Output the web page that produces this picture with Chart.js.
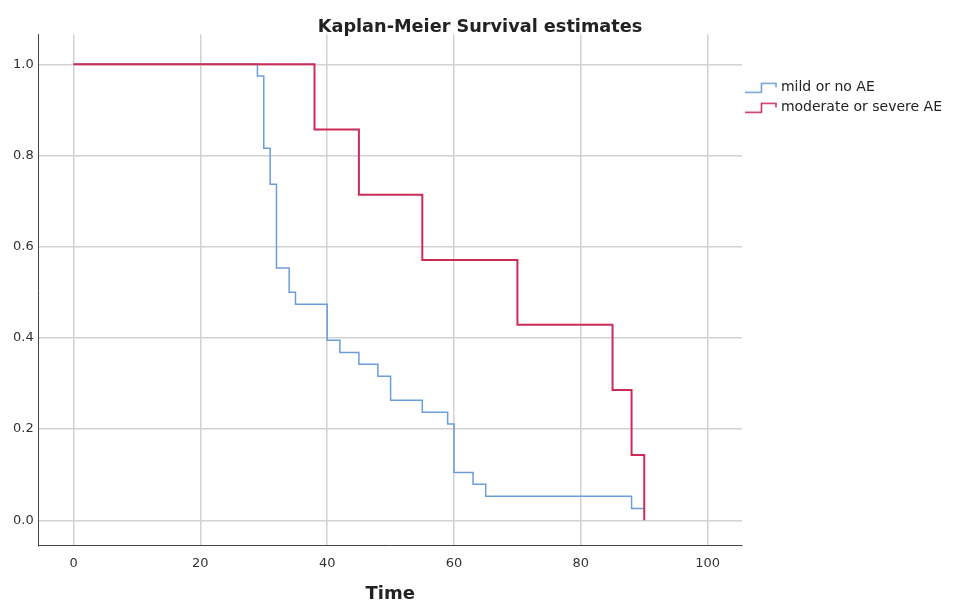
<!DOCTYPE html>
<html>
<head>
<meta charset="utf-8">
<script src="https://cdn.jsdelivr.net/npm/chart.js@4/dist/chart.umd.min.js"></script>
<style>
  html, body { margin: 0; padding: 0; background: #fff; }
  #wrap { width: 953px; height: 603px; }
</style>
</head>
<body>
<div id="wrap"><canvas id="km-chart"></canvas></div>
<script>
// step times and survival estimates
const mildTimes = [0, 29, 30, 31, 32, 34, 35, 40, 42, 45, 48, 50, 55, 59, 60, 63, 65, 88, 90];
const mildSurvival = [1.0, 0.974, 0.816, 0.737, 0.553, 0.5, 0.474, 0.395, 0.368, 0.342, 0.316, 0.263, 0.237, 0.211, 0.105, 0.079, 0.053, 0.026, 0.026];

const severeTimes = [0, 38, 45, 55, 70, 85, 88, 90];
const severeSurvival = [1.0, 0.857, 0.714, 0.571, 0.429, 0.286, 0.143, 0.0];

const seriesNames = ['mild or no AE', 'moderate or severe AE'];
const xTicks = [0, 20, 40, 60, 80, 100];
const yTicks = [0.0, 0.2, 0.4, 0.6, 0.8, 1.0];

const blue = '#6b9ddb';
const red = '#cc2b56';

function toPoints(xs, ys) {
  return xs.map((x, i) => ({ x: x, y: ys[i] }));
}

// little step-shaped legend icon
function stepIcon(color) {
  const c = document.createElement('canvas');
  c.width = 32;
  c.height = 12;
  const g = c.getContext('2d');
  g.strokeStyle = color;
  g.lineWidth = 1.5;
  g.beginPath();
  g.moveTo(0, 10.5);
  g.lineTo(16.5, 10.5);
  g.lineTo(16.5, 1.5);
  g.lineTo(31, 1.5);
  g.lineTo(31, 5.5);
  g.stroke();
  return c;
}

const font = "'DejaVu Sans', sans-serif";

new Chart(document.getElementById('km-chart'), {
  type: 'line',
  data: {
    datasets: [
      {
        label: seriesNames[0],
        data: toPoints(mildTimes, mildSurvival),
        borderColor: blue,
        borderWidth: 1.5,
        stepped: true,
        pointRadius: 0,
        pointStyle: stepIcon(blue),
        fill: false,
        order: 2
      },
      {
        label: seriesNames[1],
        data: toPoints(severeTimes, severeSurvival),
        borderColor: red,
        borderWidth: 2,
        stepped: true,
        pointRadius: 0,
        pointStyle: stepIcon(red),
        fill: false,
        order: 1   // red drawn over blue where they share the 1.0 line
      }
    ]
  },
  options: {
    responsive: true,
    maintainAspectRatio: false,
    animation: false,
    layout: { padding: { left: 8, right: 1, top: 0, bottom: 0 } },
    plugins: {
      title: {
        display: true,
        text: 'Kaplan-Meier Survival estimates',
        color: '#222',
        font: { family: font, size: 17.7, weight: 'bold', lineHeight: 0.8 },
        padding: { top: 20, bottom: 0 }
      },
      legend: {
        position: 'right',
        align: 'start',
        title: { display: true, text: ' ', font: { size: 14 }, padding: { top: 29, bottom: 29 } },
        labels: {
          usePointStyle: true,
          pointStyleWidth: 26,
          padding: 6,
          color: '#222',
          font: { family: font, size: 14 },
          sort: (a, b) => a.datasetIndex - b.datasetIndex
        }
      },
      tooltip: { enabled: false }
    },
    scales: {
      x: {
        type: 'linear',
        min: -5.5,
        max: 105.4,
        afterBuildTicks: (axis) => { axis.ticks = xTicks.map(v => ({ value: v })); },
        ticks: {
          padding: 10,
          color: '#333',
          font: { family: font, size: 13 }
        },
        grid: { color: '#d2d2d2', lineWidth: 1.5, drawTicks: false },
        border: { color: '#444', width: 1 },
        title: {
          display: true,
          text: 'Time',
          color: '#222',
          font: { family: font, size: 18, weight: 'bold', lineHeight: 1 },
          padding: { top: 4, bottom: 0 }
        }
      },
      y: {
        type: 'linear',
        min: -0.055,
        max: 1.066,
        afterBuildTicks: (axis) => { axis.ticks = yTicks.map(v => ({ value: v })); },
        ticks: {
          padding: 5,
          color: '#333',
          font: { family: font, size: 13 },
          callback: (v) => v.toFixed(1)
        },
        grid: { color: '#d2d2d2', lineWidth: 1.5, drawTicks: false },
        border: { color: '#444', width: 1 }
      }
    }
  }
});
</script>
</body>
</html>
